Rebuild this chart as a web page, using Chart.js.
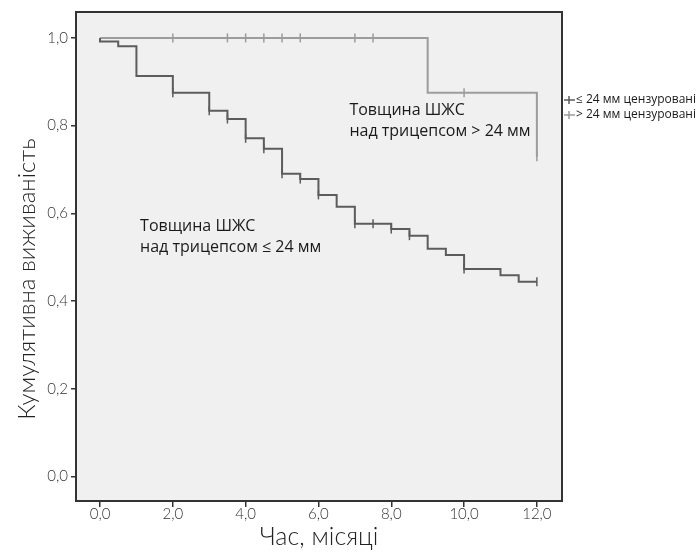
<!DOCTYPE html>
<html>
<head>
<meta charset="utf-8">
<script src="https://cdn.jsdelivr.net/npm/chart.js@4/dist/chart.umd.min.js"></script>
<style>
  html, body { margin: 0; padding: 0; background: #fff; }
  #wrap { width: 700px; height: 552px; }
</style>
</head>
<body>
<div id="wrap"><canvas id="kmChart" width="700" height="552"></canvas></div>
<script>
// Дані кривих Каплана-Мейєра (час у місяцях, кумулятивна виживаність)
const lowTimes = [0, 0, 0.5, 1, 2, 3, 3.5, 4, 4.5, 5, 5.5, 6, 6.5, 7, 8, 8.5, 9, 9.5, 10, 11, 11.5, 12];
const lowSurv = [1, 0.992, 0.981, 0.913, 0.875, 0.834, 0.815, 0.771, 0.747, 0.690, 0.678, 0.642, 0.615, 0.576, 0.564, 0.549, 0.519, 0.505, 0.473, 0.459, 0.444, 0.444];
const lowCensTimes = [2, 3, 3.5, 4, 4.5, 5, 5.5, 6, 7, 7.5, 8, 8.5, 10, 12];
const lowCensSurv = [0.875, 0.834, 0.815, 0.771, 0.747, 0.690, 0.678, 0.642, 0.576, 0.576, 0.564, 0.549, 0.473, 0.444];

const highTimes = [0, 9, 12];
const highSurv = [1, 0.875, 0.729];
const highCensTimes = [2, 3.5, 4, 4.5, 5, 5.5, 7, 7.5, 10, 12];
const highCensSurv = [1, 1, 1, 1, 1, 1, 1, 1, 0.875, 0.729];

const xTicks = [0, 2, 4, 6, 8, 10, 12];
const yTicks = [0, 0.2, 0.4, 0.6, 0.8, 1.0];
const legendLabels = ['≤ 24 мм цензуровані', '> 24 мм цензуровані'];
const yTitle = 'Кумулятивна виживаність';

const darkGray = '#5c5c5c';
const lightGray = '#9c9c9c';

function toPoints(xs, ys) {
    return xs.map((x, i) => ({ x: x, y: ys[i] }));
}
function comma(v) {
    return Number(v).toFixed(1).replace('.', ',');
}

// Фон області графіка, рамка, підписи та легенда
const decorPlugin = {
    id: 'decor',
    beforeDraw(chart) {
        const { ctx, chartArea: a } = chart;
        ctx.save();
        ctx.fillStyle = '#f0f0f0';
        ctx.fillRect(a.left, a.top, a.right - a.left, a.bottom - a.top);
        ctx.restore();
    },
    afterDraw(chart) {
        const { ctx, chartArea: a, scales } = chart;
        ctx.save();
        ctx.strokeStyle = '#333';
        ctx.lineWidth = 2;
        ctx.strokeRect(a.left, a.top, a.right - a.left, a.bottom - a.top);

        // назва осі Y (зміщена донизу, як в оригіналі)
        ctx.save();
        ctx.translate(27, scales.y.getPixelForValue(0.45));
        ctx.rotate(-Math.PI / 2);
        ctx.fillStyle = '#222';
        ctx.font = '300 24px Lato';
        ctx.textAlign = 'center';
        ctx.textBaseline = 'middle';
        ctx.fillText(yTitle, 0, 0);
        ctx.restore();

        // підписи груп
        ctx.fillStyle = '#1a1a1a';
        ctx.font = '16px "Open Sans"';
        ctx.textBaseline = 'middle';
        ctx.textAlign = 'left';
        const up = [['Товщина ШЖС', 0.835], ['над трицепсом > 24 мм', 0.787]];
        up.forEach(([t, v]) => ctx.fillText(t, scales.x.getPixelForValue(6.85), scales.y.getPixelForValue(v)));
        const lo = [['Товщина ШЖС', 0.57], ['над трицепсом ≤ 24 мм', 0.522]];
        lo.forEach(([t, v]) => ctx.fillText(t, scales.x.getPixelForValue(1.1), scales.y.getPixelForValue(v)));

        // легенда
        const colors = [darkGray, lightGray];
        ctx.font = '12px "Open Sans"';
        legendLabels.forEach((label, i) => {
            const y = 100 + i * 15;
            const x0 = a.right + 2;
            ctx.strokeStyle = colors[i];
            ctx.lineWidth = 1.5;
            ctx.beginPath();
            ctx.moveTo(x0, y);
            ctx.lineTo(x0 + 11, y);
            ctx.moveTo(x0 + 5, y - 4);
            ctx.lineTo(x0 + 5, y + 4);
            ctx.stroke();
            ctx.fillStyle = '#1a1a1a';
            ctx.fillText(label, x0 + 12, y);
        });
        ctx.restore();
    }
};

new Chart(document.getElementById('kmChart'), {
    type: 'line',
    data: {
        datasets: [
            {
                label: 'low',
                data: toPoints(lowTimes, lowSurv),
                stepped: 'before',
                borderColor: darkGray,
                borderWidth: 2,
                pointRadius: 0,
                fill: false
            },
            {
                label: 'high',
                data: toPoints(highTimes, highSurv),
                stepped: 'before',
                borderColor: lightGray,
                borderWidth: 2,
                pointRadius: 0,
                fill: false
            },
            {
                label: 'low censored',
                data: toPoints(lowCensTimes, lowCensSurv),
                showLine: false,
                pointStyle: 'line',
                rotation: 90,
                pointRadius: 4.5,
                borderColor: darkGray,
                pointBorderWidth: 1.5
            },
            {
                label: 'high censored',
                data: toPoints(highCensTimes, highCensSurv),
                showLine: false,
                pointStyle: 'line',
                rotation: 90,
                pointRadius: 4.5,
                borderColor: lightGray,
                pointBorderWidth: 1.5
            }
        ]
    },
    options: {
        responsive: false,
        animation: false,
        layout: { padding: { left: 0, top: 12, right: 138, bottom: 0 } },
        plugins: {
            legend: { display: false },
            tooltip: { enabled: false }
        },
        scales: {
            x: {
                type: 'linear',
                min: -0.66,
                max: 12.69,
                afterBuildTicks: (scale) => { scale.ticks = xTicks.map(v => ({ value: v })); },
                afterFit: (scale) => { scale.height = 51; },
                ticks: {
                    callback: (v) => comma(v),
                    color: '#333',
                    font: { family: 'Lato', size: 15, weight: 300 },
                    padding: -2,
                    maxRotation: 0
                },
                grid: { drawOnChartArea: false, drawTicks: true, tickLength: 6, color: '#333', lineWidth: 1.5 },
                border: { display: true, color: '#333', width: 2 },
                title: {
                    display: true,
                    text: 'Час, місяці',
                    color: '#222',
                    font: { family: 'Lato', size: 25, weight: 300 },
                    padding: { top: 0, bottom: 0 }
                }
            },
            y: {
                type: 'linear',
                min: -0.056,
                max: 1.059,
                afterBuildTicks: (scale) => { scale.ticks = yTicks.map(v => ({ value: v })); },
                afterFit: (scale) => { scale.width = 76; },
                ticks: {
                    callback: (v) => comma(v),
                    color: '#333',
                    font: { family: 'Lato', size: 15, weight: 300 },
                    padding: 3
                },
                grid: { drawOnChartArea: false, drawTicks: true, tickLength: 5, color: '#333', lineWidth: 1.5 },
                border: { display: true, color: '#333', width: 2 }
            }
        }
    },
    plugins: [decorPlugin]
});
</script>
</body>
</html>
